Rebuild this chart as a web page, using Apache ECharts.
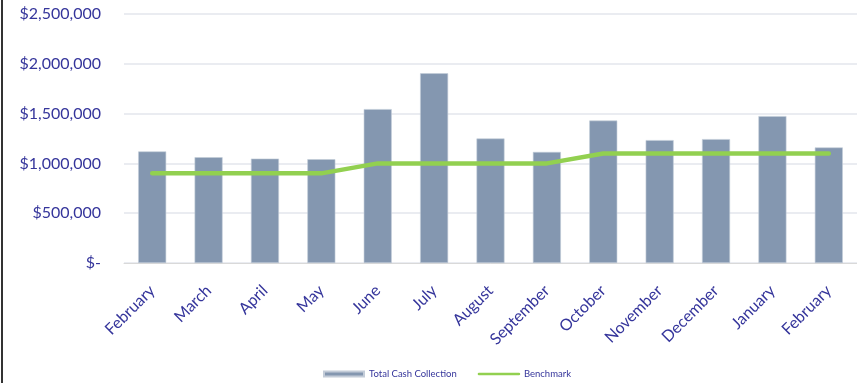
<!DOCTYPE html>
<html>
<head>
<meta charset="utf-8">
<script src="https://cdn.jsdelivr.net/npm/echarts@6/dist/echarts.min.js"></script>
<style>
html,body{margin:0;padding:0;background:#fff;}
#chart{width:857px;height:383px;}
</style>
</head>
<body>
<div id="chart"></div>
<script>
const categories = ["February","March","April","May","June","July","August","September","October","November","December","January","February"];
const cashCollection = [1120000,1062000,1048000,1042000,1545000,1905000,1250000,1115000,1430000,1234000,1244000,1475000,1160000];
const benchmark = [900000,900000,900000,900000,1000000,1000000,1000000,1000000,1100000,1100000,1100000,1100000,1100000];
const yTicks = [0,500000,1000000,1500000,2000000,2500000];

const textColor = '#35359b';
const font = 'Lato, "Open Sans", sans-serif';

function fmt(v){
  if (v === 0) return '$-';
  return '$' + v.toString().replace(/\B(?=(\d{3})+(?!\d))/g, ',');
}

const chart = echarts.init(document.getElementById('chart'), null, {renderer:'canvas'});
chart.setOption({
  animation:false,
  backgroundColor:'#ffffff',
  textStyle:{fontFamily:font},
  grid:{left:124, top:14, width:737, height:249, containLabel:false},
  legend:{
    top:369, left:323, padding:0,
    itemWidth:40, itemHeight:5, itemGap:21,
    textStyle:{color:textColor, fontSize:9.5, fontFamily:font},
    data:[
      {name:'Total Cash Collection', icon:'rect'},
      {name:'Benchmark', itemStyle:{opacity:0}, lineStyle:{width:2.5, color:'#92d050', opacity:1}}
    ]
  },
  xAxis:{
    type:'category',
    data:categories,
    axisLine:{show:true, lineStyle:{color:'#d9d9d9', width:1}},
    axisTick:{show:false},
    axisLabel:{rotate:45, color:textColor, fontSize:16, fontFamily:font, margin:25, interval:0}
  },
  yAxis:{
    type:'value',
    min:yTicks[0], max:yTicks[yTicks.length-1], interval:500000,
    axisLine:{show:false},
    axisTick:{show:false},
    splitLine:{lineStyle:{color:'#e3e6ec', width:1.5}},
    axisLabel:{color:textColor, fontSize:16, fontFamily:font, margin:23, formatter:fmt}
  },
  series:[
    {
      name:'Total Cash Collection',
      type:'bar',
      data:cashCollection,
      barWidth:28,
      itemStyle:{color:'#8497b0', borderColor:'#c3ccd8', borderWidth:0.6},
      z:2
    },
    {
      name:'Benchmark',
      type:'line',
      data:benchmark,
      symbol:'none',
      lineStyle:{color:'#92d050', width:4.5, cap:'round', join:'round'},
      itemStyle:{color:'#92d050'},
      z:3
    }
  ],
  graphic:[
    {type:'rect', shape:{x:1, y:0, width:2, height:383}, style:{fill:'#333333'}, silent:true}
  ]
});
</script>
</body>
</html>
